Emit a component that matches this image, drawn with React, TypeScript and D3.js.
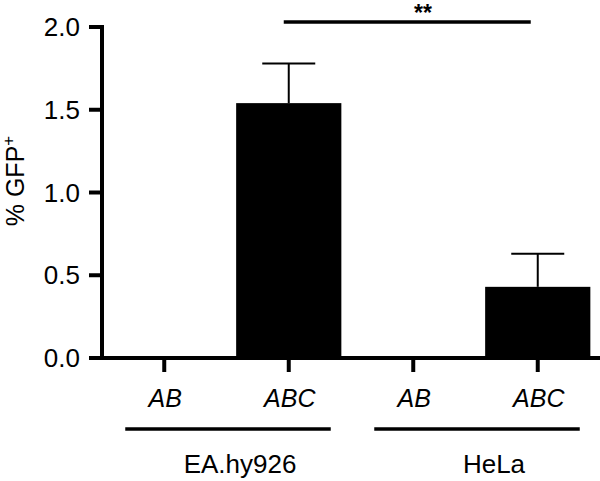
import React from "react";
import * as d3 from "d3";

const categories = ["AB", "ABC", "AB", "ABC"];
const values = [0, 1.54, 0, 0.43];
const errors = [0, 0.24, 0, 0.2];
const groups = ["EA.hy926", "HeLa"];
const groupMembers = [[0, 1], [2, 3]];
const yTicks = [0, 0.5, 1.0, 1.5, 2.0];
const sigPair = [1, 3];
const sigLabel = "**";

const W = 600;
const H = 481;
const font = "'Liberation Sans', Arial, sans-serif";

export default function App() {
  const x = d3.scalePoint<number>().domain(d3.range(categories.length)).range([102, 600]).padding(0.5);
  const y = d3.scaleLinear().domain([0, 2]).range([358, 27]);
  const step = x.step();
  const bw = step * 0.845;
  const capW = 53;
  const axisX = 102;
  const groupLabelX = [240, 494];

  return (
    <svg width={W} height={H} style={{ position: "absolute", left: 0, top: 0, background: "#fff" }} fontFamily={font}>
      {/* bars */}
      {values.map((v, i) => (
        <g key={i}>
          {v > 0 && (
            <rect x={x(i)! - bw / 2} y={y(v)} width={bw} height={y(0) - y(v)} fill="#000" />
          )}
          {errors[i] > 0 && (
            <g stroke="#000" strokeWidth={2}>
              <line x1={x(i)} x2={x(i)} y1={y(v)} y2={y(v + errors[i])} />
              <line x1={x(i)! - capW / 2} x2={x(i)! + capW / 2} y1={y(v + errors[i])} y2={y(v + errors[i])} />
            </g>
          )}
        </g>
      ))}
      {/* y axis */}
      <line x1={axisX} x2={axisX} y1={y(2) - 2} y2={y(0) + 2} stroke="#000" strokeWidth={4} />
      {yTicks.map((t) => (
        <g key={t}>
          <line x1={89} x2={axisX} y1={y(t)} y2={y(t)} stroke="#000" strokeWidth={4} />
          <text x={80} y={y(t) + 9} textAnchor="end" fontSize={26} fill="#000">
            {t.toFixed(1)}
          </text>
        </g>
      ))}
      {/* x axis */}
      <line x1={axisX - 2} x2={600} y1={y(0)} y2={y(0)} stroke="#000" strokeWidth={4} />
      {categories.map((c, i) => (
        <g key={i}>
          <line x1={x(i)} x2={x(i)} y1={y(0)} y2={372} stroke="#000" strokeWidth={4} />
          <text x={x(i)! + 1} y={407} textAnchor="middle" fontSize={25} fontStyle="italic" fill="#000">
            {c}
          </text>
        </g>
      ))}
      {/* group lines */}
      {groups.map((g, gi) => {
        const a = x(groupMembers[gi][0])!;
        const b = x(groupMembers[gi][1])!;
        return (
          <g key={g}>
            <line x1={a - 39} x2={b + 42} y1={429} y2={429} stroke="#000" strokeWidth={3.5} />
            <text x={groupLabelX[gi]} y={473} textAnchor="middle" fontSize={26} fill="#000">
              {g}
            </text>
          </g>
        );
      })}
      {/* significance */}
      <line x1={x(sigPair[0])! - 5} x2={x(sigPair[1])! - 7} y1={22} y2={22} stroke="#000" strokeWidth={3.7} />
      <text x={423} y={21} textAnchor="middle" fontSize={23} fontWeight="bold" fill="#000">
        {sigLabel}
      </text>
      {/* y title */}
      <text transform={`translate(24,181) rotate(-90)`} textAnchor="middle" fontSize={25} fill="#000">
        % GFP<tspan dy="-10" fontSize={17}>+</tspan>
      </text>
    </svg>
  );
}
